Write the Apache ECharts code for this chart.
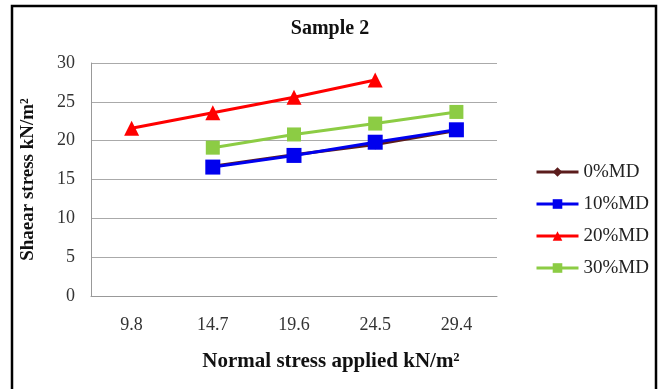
<!DOCTYPE html>
<html>
<head>
<meta charset="utf-8">
<script src="https://cdn.jsdelivr.net/npm/echarts@6/dist/echarts.min.js"></script>
<style>
  html, body { margin: 0; padding: 0; background: #fff; }
  #chart { width: 660px; height: 389px; }
</style>
</head>
<body>
<div id="chart"></div>
<script>
// x categories (normal stress applied)
var categories = ['9.8', '14.7', '19.6', '24.5', '29.4']

// shear stress per moisture content
var md0 = ['-', 16.7, 18.2, 19.5, 21.3]
var md10 = ['-', 16.6, 18.1, 19.8, 21.4]
var md20 = [21.6, 23.6, 25.6, 27.8, '-']
var md30 = ['-', 19.1, 20.8, 22.2, 23.7]

var serif = '"Liberation Serif", "DejaVu Serif", serif'

var myChart = echarts.init(document.getElementById('chart'))

function line(name, data, color, symbol, size) {
  return {
    name: name,
    type: 'line',
    data: data,
    symbol: symbol,
    symbolSize: size,
    showSymbol: true,
    lineStyle: { color: color, width: 3 },
    itemStyle: { color: color },
    emphasis: { disabled: true }
  }
}

myChart.setOption({
  animation: false,
  backgroundColor: '#fff',
  graphic: [{
    type: 'rect',
    shape: { x: 12, y: 6, width: 644, height: 400 },
    style: { fill: 'none', stroke: '#000', lineWidth: 2.5 }
  }],
  title: {
    text: 'Sample 2',
    left: 'center',
    top: 14,
    textStyle: { fontFamily: serif, fontSize: 20, fontWeight: 'bold', color: '#111' }
  },
  grid: { left: 91, right: 163, top: 63, bottom: 93 },
  legend: {
    orient: 'vertical',
    left: 535,
    top: 162,
    padding: 0,
    itemGap: 12,
    itemWidth: 42,
    itemHeight: 12,
    lineStyle: { width: 3 },
    textStyle: { fontFamily: serif, fontSize: 19, lineHeight: 20, color: '#222' },
    data: ['0%MD', '10%MD', '20%MD', '30%MD']
  },
  xAxis: {
    type: 'category',
    data: categories,
    boundaryGap: true,
    name: 'Normal stress applied kN/m²',
    nameLocation: 'middle',
    nameGap: 55,
    nameTextStyle: {
      fontFamily: serif, fontSize: 21, fontWeight: 'bold', color: '#111',
      padding: [0, 0, 0, 74]
    },
    axisLine: { lineStyle: { color: '#999', width: 1 } },
    axisTick: { show: false },
    axisLabel: { fontFamily: serif, fontSize: 18, color: '#333', margin: 20 }
  },
  yAxis: {
    type: 'value',
    min: 0,
    max: 30,
    interval: 5,
    name: 'Shaear stress kN/m²',
    nameLocation: 'middle',
    nameGap: 53,
    nameTextStyle: { fontFamily: serif, fontSize: 19, fontWeight: 'bold', color: '#111' },
    axisLine: { show: true, lineStyle: { color: '#999', width: 1 } },
    axisTick: { show: false },
    axisLabel: { fontFamily: serif, fontSize: 18, color: '#333', margin: 16 },
    splitLine: { lineStyle: { color: '#aaa', width: 1 } }
  },
  series: [
    line('0%MD', md0, '#5b1c1c', 'diamond', 10),
    line('10%MD', md10, '#0000ee', 'rect', 15),
    line('20%MD', md20, '#ff0000', 'triangle', 15),
    line('30%MD', md30, '#8ccc44', 'rect', 14)
  ]
})
</script>
</body>
</html>
